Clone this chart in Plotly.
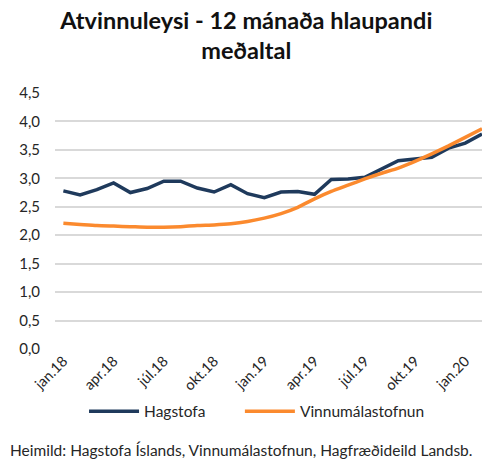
import plotly.graph_objects as go

months = ["jan.18","feb.18","mar.18","apr.18","maí.18","jún.18","júl.18","ágú.18","sep.18","okt.18","nóv.18","des.18",
          "jan.19","feb.19","mar.19","apr.19","maí.19","jún.19","júl.19","ágú.19","sep.19","okt.19","nóv.19","des.19",
          "jan.20","feb.20"]
hagstofa = [2.78,2.71,2.80,2.92,2.75,2.82,2.95,2.95,2.83,2.76,2.89,2.73,
            2.66,2.76,2.77,2.72,2.98,2.99,3.02,3.17,3.31,3.34,3.37,3.53,
            3.62,3.78]
vinnumal = [2.21,2.19,2.17,2.16,2.15,2.14,2.14,2.15,2.17,2.18,2.20,2.24,
            2.30,2.38,2.49,2.64,2.77,2.88,2.99,3.09,3.18,3.30,3.43,3.57,
            3.72,3.87]
tick_labels = ["jan.18","apr.18","júl.18","okt.18","jan.19","apr.19","júl.19","okt.19","jan.20"]
y_ticks = [0,0.5,1,1.5,2,2.5,3,3.5,4,4.5]

x_idx = list(range(len(months)))
tick_idx = [months.index(t) for t in tick_labels]

FONT = "Lato"
fig = go.Figure()
fig.add_trace(go.Scatter(x=x_idx, y=hagstofa, mode="lines", name="Hagstofa", legend="legend",
                         line=dict(color="#1f3a5c", width=3.5)))
fig.add_trace(go.Scatter(x=x_idx, y=vinnumal, mode="lines", name="Vinnumálastofnun", legend="legend2",
                         line=dict(color="#fb8a2e", width=3.5, shape="spline", smoothing=0.6)))

legend_style = dict(orientation="h", y=-0.245, yanchor="middle", xanchor="left",
                    font=dict(size=15.5, color="#262626"), itemwidth=50,
                    bgcolor="rgba(0,0,0,0)")

fig.update_layout(
    width=483, height=461,
    margin=dict(l=55, r=1, t=93, b=112),
    paper_bgcolor="white", plot_bgcolor="white",
    separators=", ",
    font=dict(family=FONT, color="#262626", size=14),
    title=dict(text="<b>Atvinnuleysi - 12 mánaða hlaupandi<br>meðaltal</b>",
               x=0.51, xanchor="center", yref="container", y=0.938, yanchor="top",
               font=dict(family=FONT, size=23.5, color="#111")),
    showlegend=True,
    legend=dict(x=0.068, **legend_style),
    legend2=dict(x=0.433, **legend_style),
    xaxis=dict(range=[-0.5, 25.0], tickmode="array", tickvals=tick_idx, ticktext=tick_labels,
               tickangle=-45, showgrid=False, zeroline=False, showline=False, ticks="",
               tickfont=dict(size=14.5)),
    yaxis=dict(range=[0, 4.5], tickmode="array", tickvals=y_ticks, tickformat=".1f",
               showgrid=True, gridcolor="#d9d9d9", gridwidth=1.5, zeroline=False,
               showline=False, ticks="", ticklabelstandoff=14, tickfont=dict(size=15)),
    annotations=[dict(text="Heimild: Hagstofa Íslands, Vinnumálastofnun, Hagfræðideild Landsb.",
                      xref="paper", yref="paper", x=0.435, y=-0.393, xanchor="center", yanchor="middle",
                      showarrow=False, font=dict(size=15.5, color="#262626"))]
)
fig.write_html("out.html", config={"displayModeBar": False},
               post_script="document.body.style.margin='0';")
